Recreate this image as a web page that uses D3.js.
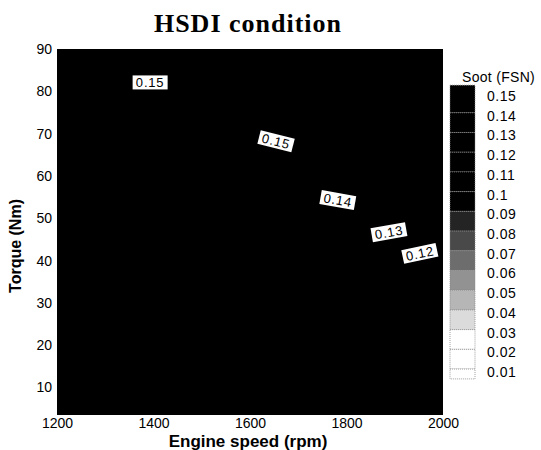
<!DOCTYPE html>
<html>
<head>
<meta charset="utf-8">
<script src="https://cdn.jsdelivr.net/npm/d3@7"></script>
<style>
  body { margin: 0; background: #fff; }
  .tick-text { font-family: "Liberation Sans", Arial, sans-serif; font-size: 14px; fill: #000; }
  .axis-title { font-family: "Liberation Sans", Arial, sans-serif; font-size: 16px; font-weight: bold; fill: #000; }
  .title { font-family: "Liberation Serif", "Times New Roman", serif; font-size: 26px; font-weight: bold; fill: #000; }
  .clabel { font-family: "Liberation Sans", Arial, sans-serif; font-size: 13px; fill: #000; }
</style>
</head>
<body>
<div id="chart"></div>
<script>
// Data ---------- ---------- ----------
let title = "HSDI condition";
let xTitle = "Engine speed (rpm)", yTitle = "Torque (Nm)", barTitle = "Soot (FSN)";
let speedRange = [1200, 2000];          // rpm, extent of the mapped field
let torqueRange = [3.5, 90];            // Nm
let speedTicks = [1200, 1400, 1600, 1800, 2000];
let torqueTicks = [10, 20, 30, 40, 50, 60, 70, 80, 90];
let fieldLevel = 0.15;                  // whole map sits in the top band
let sootLevels = [0.15, 0.14, 0.13, 0.12, 0.11, 0.1, 0.09, 0.08, 0.07, 0.06, 0.05, 0.04, 0.03, 0.02, 0.01];
// contour labels: speed, torque, level, angle
let labelSpeed  = [1393, 1654, 1782, 1888, 1952];
let labelTorque = [82.1, 68.2, 54.3, 46.7, 41.7];
let labelValue  = [0.15, 0.15, 0.14, 0.13, 0.12];
let labelAngle  = [0, 14, 10, -10, -12];

// Layout ---------- ---------- ----------
let W = 541, H = 450;
let plot = {left: 57, right: 443, top: 49, bottom: 415};

let svg = d3.select("#chart").append("svg").attr("width", W).attr("height", H);

let x = d3.scaleLinear().domain(speedRange).range([plot.left, plot.right]);
let y = d3.scaleLinear().domain(torqueRange).range([plot.bottom, plot.top]);
let grey = d3.scaleLinear().domain([0.03, 0.10]).range(["#ffffff", "#000000"]).clamp(true);

// Title
svg.append("text").attr("class", "title").attr("x", 248).attr("y", 32)
    .attr("text-anchor", "middle").style("letter-spacing", "1px").text(title);

// Field
svg.append("rect")
    .attr("x", x(speedRange[0])).attr("y", y(torqueRange[1]))
    .attr("width", x(speedRange[1]) - x(speedRange[0]))
    .attr("height", y(torqueRange[0]) - y(torqueRange[1]))
    .attr("fill", grey(fieldLevel));

// Axes (no lines, labels only)
let gx = svg.append("g").attr("transform", "translate(0," + plot.bottom + ")")
    .call(d3.axisBottom(x).tickValues(speedTicks).tickSize(0).tickPadding(0).tickFormat(d3.format("d")));
gx.select(".domain").remove();
gx.selectAll("text").attr("class", "tick-text").attr("dy", "0.92em");

let gy = svg.append("g").attr("transform", "translate(" + plot.left + ",0)")
    .call(d3.axisLeft(y).tickValues(torqueTicks).tickSize(0).tickPadding(5));
gy.select(".domain").remove();
gy.selectAll("text").attr("class", "tick-text");

svg.append("text").attr("class", "axis-title")
    .attr("x", 248).attr("y", 447).attr("text-anchor", "middle")
    .style("font-size", "17px").text(xTitle);
svg.append("text").attr("class", "axis-title")
    .attr("transform", "translate(21,246) rotate(-90)").attr("text-anchor", "middle")
    .text(yTitle);

// Contour labels
let labels = svg.selectAll(".clab").data(labelValue).enter().append("g")
    .attr("class", "clab")
    .attr("transform", (d, i) => "translate(" + x(labelSpeed[i]) + "," + y(labelTorque[i]) + ") rotate(" + labelAngle[i] + ")");
labels.append("rect").attr("x", -17.5).attr("y", -7).attr("width", 35).attr("height", 14).attr("fill", "#fff");
labels.append("text").attr("class", "clabel").attr("text-anchor", "middle").attr("dy", "0.36em")
    .style("letter-spacing", "0.8px").text(d => d3.format(".2f")(d));

// Colour bar
let cbY = d3.scaleLinear().domain([0.15, 0.01]).range([96, 372]);
let cbX = 450, cbW = 25;
let maxL = d3.max(sootLevels), minL = d3.min(sootLevels);
let blockTop = d => d === maxL ? cbY(maxL + 0.0055) : cbY(d + 0.0015);
let blockBot = d => d === minL ? cbY(minL - 0.0035) : cbY(d - 0.0085);

svg.selectAll(".cb").data(sootLevels).enter().append("rect")
    .attr("class", "cb")
    .attr("x", cbX).attr("y", d => blockTop(d))
    .attr("width", cbW).attr("height", d => blockBot(d) - blockTop(d))
    .attr("fill", d => grey(d))
    .attr("stroke", "#888").attr("stroke-width", 0.8).attr("stroke-dasharray", "1,1");

svg.selectAll(".cbl").data(sootLevels).enter().append("text")
    .attr("class", "tick-text").attr("x", 487).attr("y", d => cbY(d)).attr("dy", "0.36em")
    .style("letter-spacing", "0.5px")
    .text(d => d3.format("~g")(d));

svg.append("text").attr("class", "tick-text").attr("x", 462).attr("y", 82)
    .style("letter-spacing", "0.3px").text(barTitle);
</script>
</body>
</html>
